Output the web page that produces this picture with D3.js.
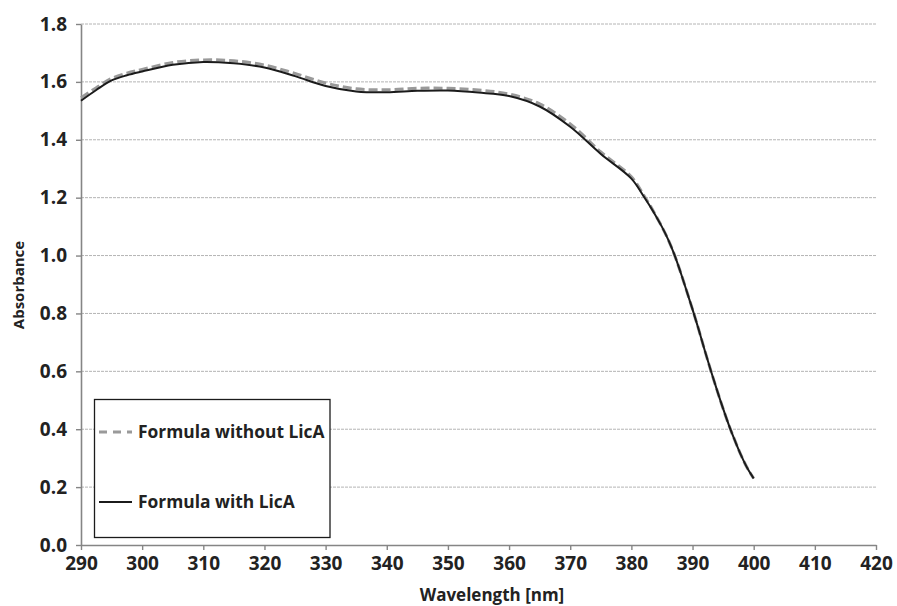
<!DOCTYPE html>
<html><head><meta charset="utf-8">
<script src="https://cdn.jsdelivr.net/npm/d3@7/dist/d3.min.js"></script>
<style>
body{margin:0;background:#fff;}
svg text{font-family:"Open Sans","Liberation Sans",sans-serif;font-weight:bold;fill:#222;}
</style></head>
<body><svg id="c" width="897" height="606"></svg>
<script>
const xTicks = [290,300,310,320,330,340,350,360,370,380,390,400,410,420];
const yTicks = [0.0,0.2,0.4,0.6,0.8,1.0,1.2,1.4,1.6,1.8];
const wlWith = [290,292.5,295,297.5,300,305,310,315,320,325,330,335,340,345,350,355,360,365,370,375,380,382,383,384,385,386,387,388,389,390,391,392,393,394,395,396,397,398,399,400];
const absWith = [1.535,1.572,1.605,1.623,1.636,1.659,1.669,1.664,1.650,1.620,1.586,1.567,1.564,1.569,1.570,1.563,1.551,1.515,1.445,1.351,1.266,1.205,1.172,1.137,1.099,1.056,1.005,0.945,0.880,0.814,0.745,0.672,0.602,0.535,0.471,0.411,0.357,0.307,0.264,0.230];
const wlWithout = [290,292.5,295,297.5,300,305,310,315,320,325,330,335,340,345,350,355,360,365,370,375,380,382,383,384,385,386,387,388,389,390,391,392,393,394,395,396,397,398,399,400];
const absWithout = [1.545,1.580,1.612,1.630,1.643,1.667,1.676,1.673,1.658,1.629,1.596,1.576,1.573,1.578,1.578,1.572,1.558,1.524,1.455,1.358,1.272,1.209,1.175,1.138,1.099,1.056,1.005,0.945,0.880,0.814,0.745,0.672,0.602,0.535,0.471,0.411,0.357,0.307,0.264,0.230];
const seriesNames = ["Formula without LicA","Formula with LicA"];

const svg = d3.select("#c");
const L=81, R=876, T=24, B=545;
const x = d3.scaleLinear().domain([290,420]).range([L,R]);
const y = d3.scaleLinear().domain([0,1.8]).range([B,T]);

// gridlines
svg.append("g").selectAll("line").data(yTicks.filter(d=>d>0)).join("line")
  .attr("x1",L).attr("x2",R).attr("y1",d=>y(d)).attr("y2",d=>y(d))
  .attr("stroke","#b4b4b4").attr("stroke-width",1).attr("stroke-dasharray","3,1");

// axes
const xAxis = d3.axisBottom(x).tickValues(xTicks).tickSize(5).tickSizeOuter(0).tickPadding(6).tickFormat(d3.format("d"));
const gx = svg.append("g").attr("transform",`translate(0,${B})`).call(xAxis);
const yAxis = d3.axisLeft(y).tickValues(yTicks).tickSize(5).tickSizeOuter(0).tickPadding(9).tickFormat(d3.format(".1f"));
const gy = svg.append("g").attr("transform",`translate(${L},0)`).call(yAxis);
[gx,gy].forEach(g=>{
  g.select(".domain").attr("stroke","#858585").attr("stroke-width",1.6);
  g.selectAll(".tick line").attr("stroke","#858585").attr("stroke-width",1.4);
  g.selectAll(".tick text").attr("font-size","19px").attr("fill","#222")
   .attr("font-family","Open Sans, sans-serif").attr("font-weight","bold");
});
gx.selectAll(".tick text").attr("dy","0.72em");

// lines
const line = d3.line().x(d=>x(d[0])).y(d=>y(d[1])).curve(d3.curveCatmullRom.alpha(0.5));
svg.append("path").datum(wlWithout.map((w,i)=>[w,absWithout[i]]))
  .attr("d",line).attr("fill","none").attr("stroke","#9a9a9a").attr("stroke-width",3).attr("stroke-dasharray","9,4");
svg.append("path").datum(wlWith.map((w,i)=>[w,absWith[i]]))
  .attr("d",line).attr("fill","none").attr("stroke","#1b1b1b").attr("stroke-width",2);

// legend
const lg = svg.append("g");
lg.append("rect").attr("x",94.5).attr("y",399.5).attr("width",235.5).attr("height",138)
  .attr("fill","#fff").attr("stroke","#1b1b1b").attr("stroke-width",1.3);
lg.append("line").attr("x1",99).attr("x2",132).attr("y1",432).attr("y2",432)
  .attr("stroke","#9a9a9a").attr("stroke-width",3).attr("stroke-dasharray","8,6");
lg.append("line").attr("x1",99).attr("x2",132).attr("y1",502).attr("y2",502)
  .attr("stroke","#1b1b1b").attr("stroke-width",2);
lg.append("text").attr("x",138).attr("y",432).attr("dy","0.35em").attr("font-size","17.4px").text(seriesNames[0]);
lg.append("text").attr("x",138).attr("y",502).attr("dy","0.35em").attr("font-size","17.4px").text(seriesNames[1]);

// axis titles
svg.append("text").attr("x",492).attr("y",601).attr("text-anchor","middle").attr("font-size","17px").text("Wavelength [nm]");
svg.append("text").attr("transform","translate(24,285) rotate(-90)").attr("text-anchor","middle").attr("font-size","15px").text("Absorbance");
</script></body></html>
